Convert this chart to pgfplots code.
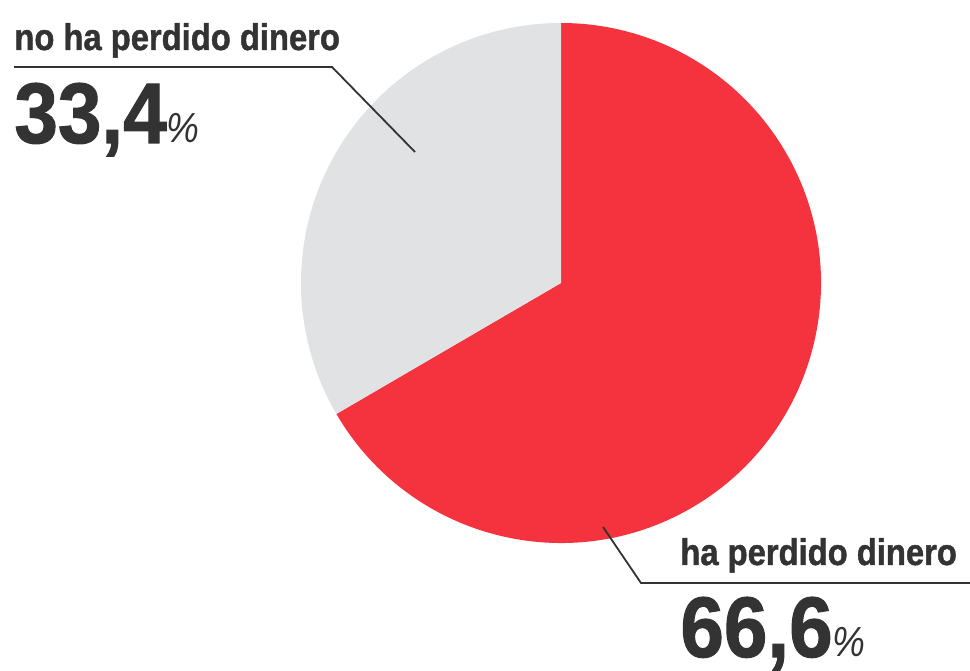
\documentclass[border=0pt]{standalone}
\usepackage{pgfplots}
\pgfplotsset{compat=1.18}
\usepackage{fontspec}
\newfontfamily\cond[FakeStretch=0.88]{Liberation Sans}
\newfontfamily\condb[FakeStretch=0.88, FakeBold=1.2]{Liberation Sans Bold}
\newfontfamily\condd[FakeStretch=0.91, FakeBold=1.2]{Liberation Sans Bold}
\definecolor{piered}{HTML}{F5333F}
\definecolor{piegray}{HTML}{E1E2E4}
\definecolor{txt}{HTML}{333333}
% shares in percent
\def\valA{66.6} % ha perdido dinero
\def\valB{33.4} % no ha perdido dinero
\begin{document}
\begin{tikzpicture}
\pgfmathsetmacro\angA{90-\valA*3.6}
\pgfmathsetmacro\angB{\angA+360}
\begin{axis}[hide axis, scale only axis, width=485pt, height=335pt,
  xmin=0, xmax=970, ymin=0, ymax=670, clip=false]
% slices
\fill[piered] (axis cs:561,387) -- ++(\angA:130pt)
  arc[start angle=\angA, end angle=90, radius=130pt] -- cycle;
\fill[piegray] (axis cs:561,387) -- ++(90:130pt)
  arc[start angle=90, end angle=\angB, radius=130pt] -- cycle;
% leader lines
\draw[txt, line width=0.9pt] (axis cs:14,603) -- (axis cs:332,603) -- (axis cs:415,518);
\draw[txt, line width=0.9pt] (axis cs:603,143) -- (axis cs:641,87) -- (axis cs:970,87);
% labels
\node[anchor=base west, inner sep=0, txt] at (axis cs:14,620)
  {\condb\fontsize{18.6}{18.6}\selectfont no ha perdido dinero};
\node[anchor=base west, inner sep=0, txt] at (axis cs:14,527)
  {\condd\fontsize{43}{43}\selectfont 33,4\cond\itshape\fontsize{21}{21}\selectfont\%};
\node[anchor=base west, inner sep=0, txt] at (axis cs:680,105)
  {\condb\fontsize{18.6}{18.6}\selectfont ha perdido dinero};
\node[anchor=base west, inner sep=0, txt] at (axis cs:680,13)
  {\condd\fontsize{43}{43}\selectfont 66,6\cond\itshape\fontsize{21}{21}\selectfont\%};
\end{axis}
\pgfresetboundingbox
\path (current axis.south west) rectangle (current axis.north east);
\end{tikzpicture}
\end{document}
